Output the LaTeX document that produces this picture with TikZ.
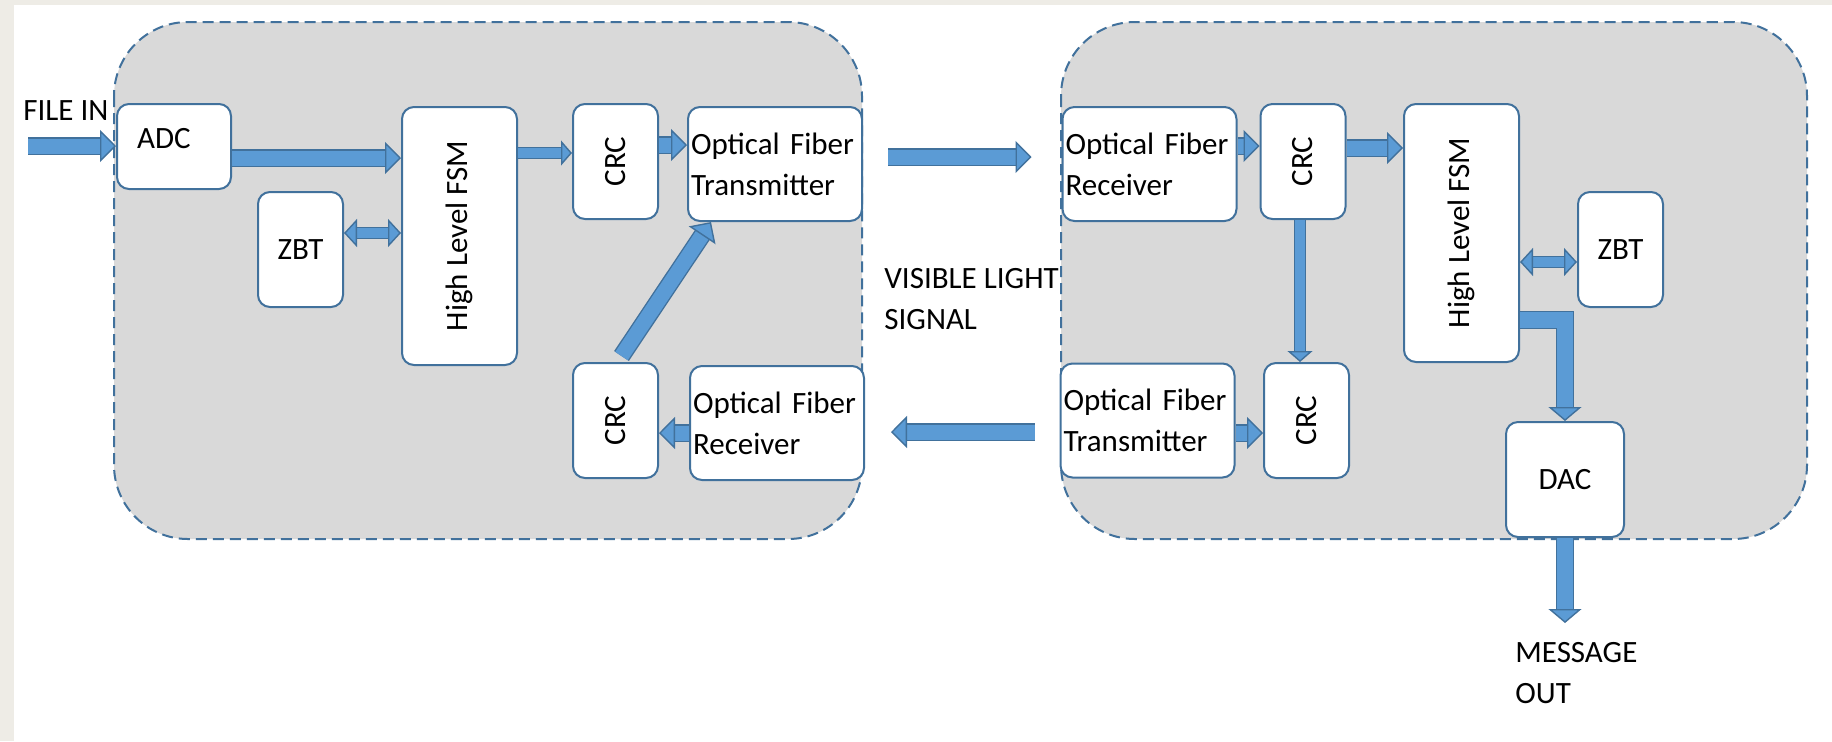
\documentclass[tikz,border=0pt]{standalone}
\usepackage{fontspec}
\setmainfont{Carlito}
\usepackage{graphicx}
\usepackage{tikz}
\usetikzlibrary{arrows.meta, positioning, calc}
\definecolor{pagebeige}{HTML}{EEECE6}
\definecolor{zonegray}{HTML}{D9D9D9}
\definecolor{edgeblue}{HTML}{41719C}
\definecolor{flowblue}{HTML}{5B9BD5}
\newcommand{\diafont}{\fontsize{15.5}{20.5}\selectfont}

\tikzset{
  blk/.style={draw=edgeblue, fill=white, line width=1pt, rounded corners=6pt, inner sep=1.5pt, font=\diafont},
  tallblk/.style={blk, minimum width=42.5pt, minimum height=57.5pt},
  fsmblk/.style={blk, minimum width=57.5pt, minimum height=129pt},
  wideblk/.style={blk, minimum height=57pt, text width=84pt, align=left},
  zone/.style={draw=edgeblue, fill=zonegray, line width=1pt, dash pattern=on 5.5pt off 3pt, rounded corners=37pt},
  plain/.style={font=\diafont, inner sep=0pt, align=left},
  bigflow/.style={draw=flowblue, line width=7.5pt,
    -{Triangle[length=8pt, width=16pt, fill=flowblue, color=edgeblue, line width=0.7pt]},
    preaction={draw=edgeblue, line width=8.9pt, -, shorten >=6pt}},
  smallflow/.style={draw=flowblue, line width=5pt,
    -{Triangle[length=5.5pt, width=12.5pt, fill=flowblue, color=edgeblue, line width=0.7pt]},
    preaction={draw=edgeblue, line width=6.4pt, -, shorten >=4pt}},
  dblflow/.style={draw=flowblue, line width=5pt,
    {Triangle[length=6.5pt, width=14pt, fill=flowblue, color=edgeblue, line width=0.7pt]}-{Triangle[length=6.5pt, width=14pt, fill=flowblue, color=edgeblue, line width=0.7pt]},
    preaction={draw=edgeblue, line width=6.4pt, -, shorten <=5pt, shorten >=5pt}},
  wideflow/.style={draw=flowblue, line width=8pt, line join=miter,
    -{Triangle[length=7pt, width=16.5pt, fill=flowblue, color=edgeblue, line width=0.7pt]},
    preaction={draw=edgeblue, line width=9.4pt, -, shorten >=5pt}}
}

\begin{document}
\begin{tikzpicture}[x=0.5pt, y=-0.5pt]
  % page
  \useasboundingbox (0,0) rectangle (1832,741);
  \fill[pagebeige] (0,0) rectangle (1832,741);
  \fill[white] (14,5) rectangle (1832,741);

  % transmitter and receiver zones
  \draw[zone] (114,22) rectangle (862,539);
  \draw[zone] (1061,22) rectangle (1807,539);

  % transmitter side
  \node[blk, minimum width=57pt, minimum height=42.5pt] (adc) at (174,146.5) {};
  \node[plain] (adctext) at ($(adc)+(-10,-8)$) {ADC};
  \node[tallblk] (zbtA) at (300.5,249.5) {ZBT};
  \node[fsmblk] (fsmA) at (459.5,236) {\rotatebox{90}{High Level FSM}};
  \node[tallblk] (crcA1) at (615.5,161.5) {\rotatebox{90}{CRC}};
  \node[wideblk] (txA) at (775,164) {Optical Fiber\\Transmitter};
  \node[tallblk] (crcA2) at (615.5,420.5) {\rotatebox{90}{CRC}};
  \node[wideblk] (rxA) at (777,423) {Optical Fiber\\Receiver};

  % receiver side
  \node[wideblk] (rxB) at (1149.5,164) {Optical Fiber\\Receiver};
  \node[tallblk] (crcB1) at (1303,161.5) {\rotatebox{90}{CRC}};
  \node[fsmblk] (fsmB) at (1461.5,233) {\rotatebox{90}{High Level FSM}};
  \node[tallblk] (zbtB) at (1620.5,249.5) {ZBT};
  \node[wideblk] (txB) at (1147.5,420.5) {Optical Fiber\\Transmitter};
  \node[tallblk] (crcB2) at (1306.5,420.5) {\rotatebox{90}{CRC}};
  \node[blk, minimum width=59pt, minimum height=57.5pt] (dac) at (1565,479.5) {DAC};

  % free labels
  \node[plain, anchor=north west] (filein) at (23,100) {FILE IN};
  \node[plain, anchor=north west] (vlc) at (884,268) {VISIBLE LIGHT\\SIGNAL};
  \node[plain, anchor=north west] (msgout) at (1515,642) {MESSAGE\\OUT};
  \coordinate (src) at (28,146);
  \coordinate (sink) at (1565,623);

  % flows, transmitter side
  \draw[bigflow] (src) -- (src -| adc.west);
  \draw[bigflow] ($(adc.east)+(0,11.5)$) coordinate (a1) -- (a1 -| fsmA.west);
  \draw[dblflow] ($(zbtA.east)+(0,-16.5)$) coordinate (z1) -- (z1 -| fsmA.west);
  \coordinate (c1) at ($(crcA1.west)+(0,-8.5)$);
  \draw[smallflow] (fsmA.east |- c1) -- (c1);
  \draw[bigflow] ($(crcA1.east)+(0,-16.5)$) coordinate (c2) -- (c2 -| txA.west);
  \draw[bigflow] ($(crcA2.north)+(6,-6)$) -- ($(txA.south west)+(24,0)$);
  \draw[bigflow] ($(rxA.west)+(0,10)$) coordinate (r1) -- (r1 -| crcA2.east);

  % visible light link
  \draw[bigflow] ($(txA.east)+(25,-7)$) coordinate (l1) -- ($(l1 -| rxB.west)+(-30,0)$);
  \draw[bigflow] ($(txB.west)+(-25,11.5)$) coordinate (l2) -- ($(l2 -| rxA.east)+(26,0)$);

  % flows, receiver side
  \draw[bigflow] ($(rxB.east)+(0,-18)$) coordinate (r2) -- (r2 -| crcB1.west);
  \draw[bigflow] ($(crcB1.east)+(0,-13.5)$) coordinate (c3) -- (c3 -| fsmB.west);
  \draw[dblflow] ($(zbtB.west)+(0,12.5)$) coordinate (z2) -- (z2 -| fsmB.east);
  \draw[smallflow] ($(crcB1.south)+(-3,0)$) coordinate (d1) -- (d1 |- crcB2.north);
  \draw[bigflow] ($(txB.east)+(0,12.5)$) coordinate (t1) -- (t1 -| crcB2.west);
  \draw[wideflow] ($(fsmB.east)+(0,87)$) -| (dac.north);
  \draw[wideflow] (dac.south) -- (sink);
\end{tikzpicture}
\end{document}
